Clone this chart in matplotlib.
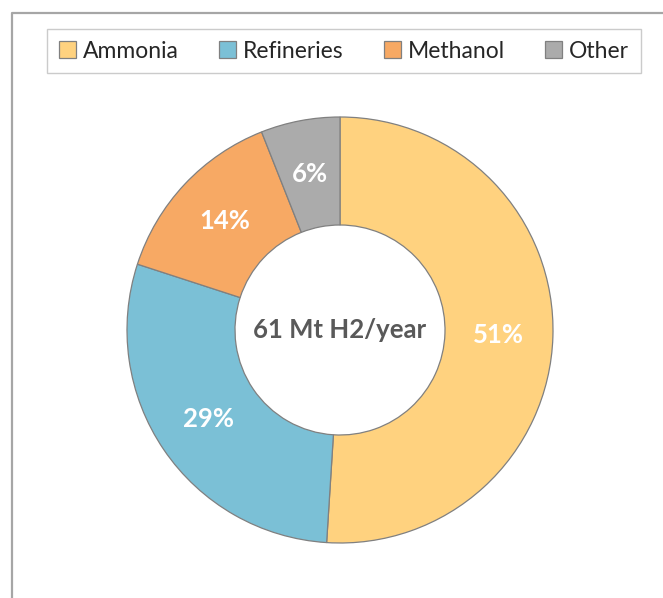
import matplotlib.pyplot as plt
from matplotlib.lines import Line2D

categories = ["Ammonia", "Refineries", "Methanol", "Other"]
shares = [51, 29, 14, 6]
colors = ["#FFD27F", "#7BC0D6", "#F7A964", "#ABABAB"]
center_label = "61 Mt H2/year"

plt.rcParams["font.family"] = ["Lato", "DejaVu Sans"]

fig = plt.figure(figsize=(6.63, 5.98), dpi=100)
ax = fig.add_axes([0, 0, 1, 1])
ax.set_xlim(0, 663)
ax.set_ylim(0, 598)
ax.set_aspect("equal")

wedges, texts, autotexts = ax.pie(
    shares,
    colors=colors,
    startangle=90,
    counterclock=False,
    center=(340, 268),
    radius=213,
    autopct="%d%%",
    pctdistance=0.745,
    wedgeprops=dict(width=108, edgecolor="#808080", linewidth=0.9),
    textprops=dict(color="white", fontsize=18.5, fontweight="bold"),
    frame=True,
)
ax.axis("off")

ax.text(340, 268, center_label, ha="center", va="center",
        fontsize=18.5, fontweight="bold", color="#595959")

leg = fig.legend(wedges, categories, loc="center", ncol=4,
                 bbox_to_anchor=(344 / 663, 1 - 51 / 598),
                 fontsize=16.5, frameon=True, fancybox=False,
                 handlelength=0.75, handleheight=0.75, handletextpad=0.3,
                 columnspacing=1.75, borderpad=0.5, borderaxespad=0)
leg.get_frame().set_edgecolor("#BFBFBF")
leg.get_frame().set_linewidth(1.0)
for t in leg.get_texts():
    t.set_color("#262626")

# outer chart frame (right and bottom cropped off)
fig.add_artist(Line2D([12 / 663, 12 / 663, 1], [0, 1 - 13 / 598, 1 - 13 / 598],
                      transform=fig.transFigure, color="#A6A6A6", linewidth=1.6))

fig.savefig("out.png", dpi=100)
